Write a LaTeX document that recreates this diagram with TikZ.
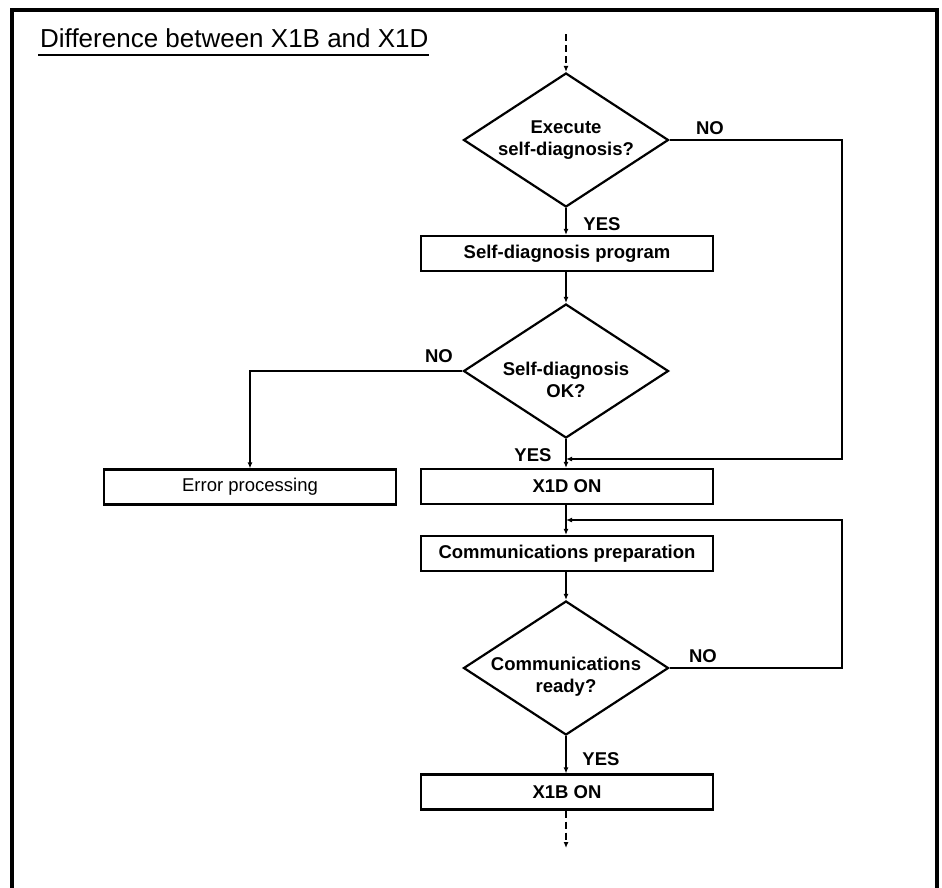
\documentclass[tikz,border=0pt]{standalone}
\usepackage{fontspec}
\setmainfont{Liberation Sans}
\usetikzlibrary{shapes.geometric,arrows.meta}

\begin{document}
\begin{tikzpicture}[x=1pt,y=-1pt,
  lbl/.style={font=\fontsize{18.5}{22}\selectfont\bfseries},
  stepbox/.style={draw,line width=2.2pt,minimum width=292pt,minimum height=35pt,
    inner sep=0pt,lbl},
  decision/.style={draw,diamond,line width=2.2pt,aspect=1.53,minimum width=205pt,
    minimum height=134pt,inner sep=0pt,align=center,lbl},
  lowtext/.style={label={[lbl,align=center,yshift=-9pt]center:#1}},
  flow/.style={line width=2pt,-{Latex[length=6pt,width=5pt]}},
  flowdash/.style={flow,dash pattern=on 7pt off 4pt}
]
\useasboundingbox (0,0) rectangle (942,887);

% outer frame, open at the bottom
\draw[line width=3.8pt] (12,900) -- (12,10) -- (937,10) -- (937,900);

% heading
\node[anchor=base west,inner sep=0pt,font=\fontsize{26}{30}\selectfont] (title) at (40,47)
  {Difference between X1B and X1D};
\draw[line width=2.8pt] (38,55) -- (title.base east |- 0,55);

% flow elements
\coordinate (entry) at (566,34);
\node[decision] (d1) at (566,140) {Execute\\self-diagnosis?};
\node[stepbox] (p1) at (567,253.5) {Self-diagnosis program};
\node[decision,lowtext={Self-diagnosis\\OK?}] (d2) at (566,371) {};
\node[stepbox] (err) at (250,487) {\mdseries Error processing};
\node[stepbox] (x1d) at (567,486.5) {X1D ON};
\node[stepbox] (comm) at (567,553.5) {Communications preparation};
\node[decision,lowtext={Communications\\ready?}] (d3) at (566,668) {};
\node[stepbox] (x1b) at (567,792) {X1B ON};
\coordinate (exit) at (566,848);

% branch labels
\node[lbl] (yes1) at (602,224) {YES};
\node[lbl] (no1) at (710,128) {NO};
\node[lbl] (yes2) at (533,455) {YES};
\node[lbl] (no2) at (439,356) {NO};
\node[lbl] (no3) at (703,656) {NO};
\node[lbl] (yes3) at (601,759) {YES};

% connectors
\coordinate (c1) at (842,459);
\coordinate (j1) at (566,459);
\coordinate (c2) at (842,520);
\coordinate (j2) at (566,520);

\draw[flowdash] (entry) -- (d1.north);
\draw[flow] (d1.south) -- (d1.south |- p1.north);
\draw[flow] (d1.south |- p1.south) -- (d2.north);
\draw[flow] (d1.east) -| (c1) -- (j1);
\draw[flow] (d2.south) -- (d2.south |- x1d.north);
\draw[flow] (d2.west) -| (err.north);
\draw[flow] (d2.south |- x1d.south) -- (d2.south |- comm.north);
\draw[flow] (d3.east) -| (c2) -- (j2);
\draw[flow] (d3.north |- comm.south) -- (d3.north);
\draw[flow] (d3.south) -- (d3.south |- x1b.north);
\draw[flowdash] (d3.south |- x1b.south) -- (exit);
\end{tikzpicture}
\end{document}
